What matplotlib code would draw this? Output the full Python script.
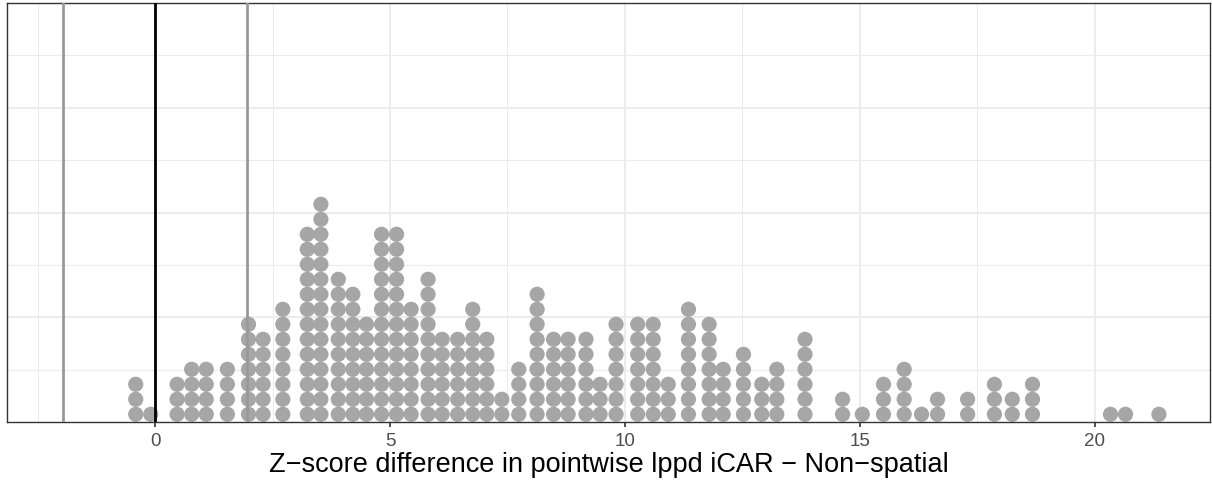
import numpy as np
import matplotlib
matplotlib.use('Agg')
import matplotlib.pyplot as plt

# stack centres (Z-score difference) and number of dots in each stack
stack_x = [-0.41, -0.09, 0.47, 0.78, 1.09, 1.54, 1.99, 2.30, 2.72, 3.24,
           3.53, 3.90, 4.21, 4.50, 4.82, 5.14, 5.45, 5.81, 6.11, 6.44,
           6.76, 7.06, 7.38, 7.74, 8.13, 8.48, 8.79, 9.17, 9.47, 9.81,
           10.27, 10.60, 10.92, 11.35, 11.79, 12.09, 12.52, 12.91, 13.23, 13.83,
           14.63, 15.05, 15.50, 15.94, 16.31, 16.65, 17.29, 17.86, 18.24, 18.67,
           20.33, 20.65, 21.36]
stack_n = [3, 1, 3, 4, 4, 4, 7, 6, 8, 13,
           15, 10, 9, 7, 13, 13, 8, 10, 6, 6,
           8, 6, 2, 4, 9, 6, 6, 6, 3, 7,
           7, 7, 3, 8, 7, 4, 5, 3, 4, 6,
           2, 1, 3, 4, 1, 2, 2, 3, 2, 3,
           1, 1, 1]

x_ticks = [0, 5, 10, 15, 20]
ref_lines = [-1.96, 0, 1.96]
xlabel = 'Z\u2212score difference in pointwise lppd iCAR \u2212 Non\u2212spatial'

W, H = 1212, 488
fig = plt.figure(figsize=(W / 100, H / 100), dpi=100)
ax = fig.add_axes([7 / W, (H - 422) / H, (1210 - 7) / W, (422 - 3) / H])

ax.set_xlim(-3.149, 22.447)
ax.set_ylim(0, 1)

# grid (theme_bw style)
for v in [-2.5, 2.5, 7.5, 12.5, 17.5]:
    ax.axvline(v, color='#ebebeb', lw=0.7, zorder=0)
for v in x_ticks:
    ax.axvline(v, color='#ebebeb', lw=1.3, zorder=0)
for v in np.arange(0.125, 1.0, 0.125):
    ax.axhline(v, color='#ebebeb', lw=1.3 if abs(v * 4 - round(v * 4)) < 1e-9 else 0.8, zorder=0)

# dots
dot_h = 15 / 419
xs, ys = [], []
for x, n in zip(stack_x, stack_n):
    for k in range(n):
        xs.append(x)
        ys.append((k + 0.5) * dot_h + 0.0005)
ax.scatter(xs, ys, s=(15.2 * 0.72) ** 2, color='#a6a6a6', edgecolors='none', zorder=2)

# reference lines
ax.axvline(ref_lines[0], color='#999999', lw=2.0, zorder=3)
ax.axvline(ref_lines[2], color='#999999', lw=2.0, zorder=3)
ax.axvline(ref_lines[1], color='black', lw=2.0, zorder=3)

ax.set_xticks(x_ticks)
ax.set_xticklabels([str(t) for t in x_ticks], fontsize=13.5, color='#4d4d4d',
                   family='Liberation Sans')
ax.tick_params(axis='x', length=3.5, width=1.2, color='#333333', pad=4.5)
ax.set_yticks([])
for s in ax.spines.values():
    s.set_color('#333333')
    s.set_linewidth(1.0)
ax.set_xlabel(xlabel, fontsize=19.5, family='Liberation Sans', labelpad=1.5)

fig.savefig('out.png', dpi=100)
